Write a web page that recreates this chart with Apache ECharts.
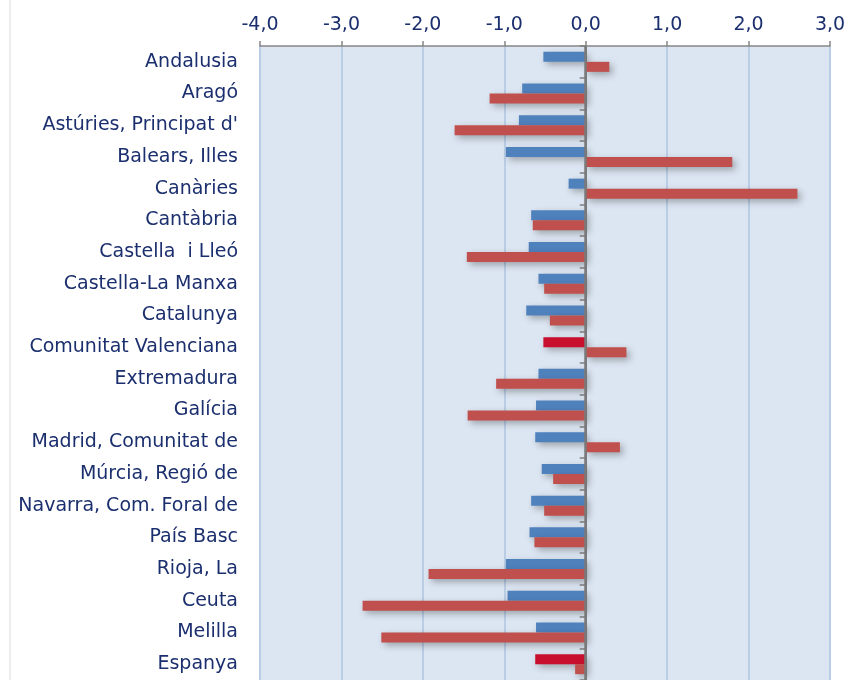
<!DOCTYPE html>
<html>
<head>
<meta charset="utf-8">
<script src="https://cdn.jsdelivr.net/npm/echarts@6/dist/echarts.min.js"></script>
<style>
 html,body{margin:0;padding:0;background:#fff;}
 #chart{width:849px;height:680px;}
</style>
</head>
<body>
<div id="chart"></div>
<script>
var regions = ["Andalusia","Aragó","Astúries, Principat d'","Balears, Illes","Canàries","Cantàbria","Castella  i Lleó","Castella-La Manxa","Catalunya","Comunitat Valenciana","Extremadura","Galícia","Madrid, Comunitat de","Múrcia, Regió de","Navarra, Com. Foral de","País Basc","Rioja, La","Ceuta","Melilla","Espanya"];
var blueVals = [-0.52,-0.78,-0.82,-0.98,-0.21,-0.67,-0.70,-0.58,-0.73,-0.52,-0.58,-0.61,-0.62,-0.54,-0.67,-0.69,-0.98,-0.96,-0.61,-0.62];
var redVals = [0.29,-1.18,-1.61,1.80,2.60,-0.65,-1.46,-0.51,-0.44,0.50,-1.10,-1.45,0.42,-0.40,-0.51,-0.63,-1.93,-2.74,-2.51,-0.13];
var highlight = ["Comunitat Valenciana","Espanya"];

var shadow = {shadowColor:"rgba(0,0,0,0.3)",shadowBlur:7,shadowOffsetX:3,shadowOffsetY:3};

var blueData = blueVals.map(function(v,i){
 if(highlight.indexOf(regions[i])>=0){
  return {value:v,itemStyle:{color:"#C80F2E"}};
 }
 return v;
});

var chart = echarts.init(document.getElementById("chart"));
var option = {
 animation:false,
 graphic:[{type:"line",shape:{x1:10,y1:0,x2:10,y2:680},style:{stroke:"#D9D9D9",lineWidth:1}}],
 grid:{left:260,top:46,width:570,height:640,backgroundColor:"#DCE6F2",show:true,borderWidth:0},
 xAxis:{type:"value",position:"top",min:-4,max:3,interval:1,
  axisLine:{show:true,onZero:false,lineStyle:{color:"#868686",width:1.5}},
  axisTick:{show:true,length:5,lineStyle:{color:"#868686",width:1.5}},
  axisLabel:{margin:11,color:"#1B2F6E",fontSize:19,fontFamily:"DejaVu Sans",
   formatter:function(v){return v.toFixed(1).replace(".",",");}},
  splitLine:{show:true,lineStyle:{color:"#B9CDE5",width:2}}
 },
 yAxis:[
  {type:"category",data:regions,inverse:true,
   axisLine:{show:false,onZero:false},axisTick:{show:false},
   axisLabel:{margin:22,color:"#1B2F6E",fontSize:19,fontFamily:"DejaVu Sans"}
  },
  {type:"category",data:regions,inverse:true,position:"left",
   axisLine:{show:true,onZero:true,onZeroAxisIndex:0,lineStyle:{color:"#808080",width:2}},
   axisTick:{show:true,length:6,lineStyle:{color:"#808080",width:1.5}},
   axisLabel:{show:false}
  }
 ],
 series:[
  {type:"bar",yAxisIndex:0,data:blueData,barWidth:10,barGap:"0%",
   itemStyle:Object.assign({color:"#4F81BD"},shadow)},
  {type:"bar",yAxisIndex:0,data:redVals,barWidth:10,barGap:"0%",
   itemStyle:Object.assign({color:"#C0504D"},shadow),
   markLine:{silent:true,symbol:"none",label:{show:false},z:10,
    lineStyle:{color:"#7A7A7A",width:2.5,type:"solid"},
    data:[{xAxis:0}]}}
 ]
};
chart.setOption(option);
</script>
</body>
</html>
